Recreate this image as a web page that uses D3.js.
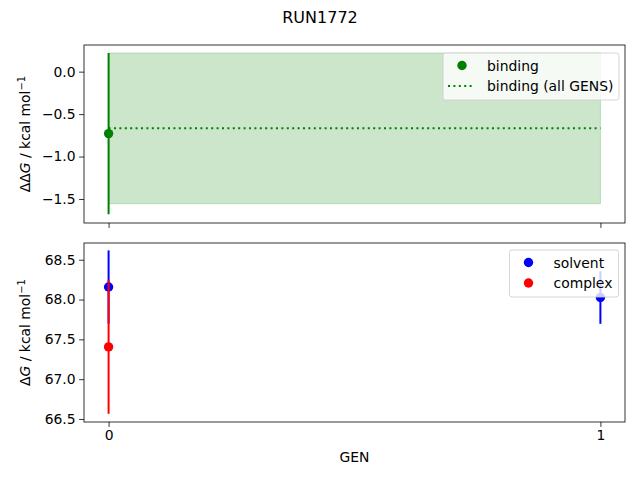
<!DOCTYPE html>
<html>
<head>
<meta charset="utf-8">
<script src="https://cdn.jsdelivr.net/npm/d3@7"></script>
<style>
  body { margin: 0; background: #fff; }
  svg { font-family: "DejaVu Sans", sans-serif; }
</style>
</head>
<body>
<svg id="chart" width="640" height="480"></svg>
<script>
// data
const TITLE = "RUN1772";
const GENS = [0, 1];
const X_TICKS = [0, 1];

// binding per GEN (null = missing)
const BINDING = [-0.73, null];
const BINDING_ERR = [0.95, null];
// binding over all gens
const BINDING_ALL = -0.668;
const BINDING_ALL_ERR = 0.888;

const SOLVENT = [68.157, 68.025];
const SOLVENT_ERR = [0.46, 0.33];
const COMPLEX = [67.405, null];
const COMPLEX_ERR = [0.84, null];

const TOP_TICKS = [0.0, -0.5, -1.0, -1.5];
const BOT_TICKS = [66.5, 67.0, 67.5, 68.0, 68.5];

const svg = d3.select('#chart');
const L = 84, R = 625;
const TOP = {y0: 45, y1: 223};
const BOT = {y0: 243, y1: 422};

// matplotlib-like 5% margins on x
const x = d3.scaleLinear().domain([-0.05, 1.05]).range([L, R]);
const yTop = d3.scaleLinear().domain([-1.783, 0.314]).range([TOP.y1, TOP.y0]);
const yBot = d3.scaleLinear().domain([66.462, 68.71]).range([BOT.y1, BOT.y0]);

const fmt = d3.format('.1f');
const minus = s => s.replace('-', '\u2212');
const LW = 2, MR = 4.7, DOTS = '2,3.4';

svg.append('text')
  .attr('x', 320).attr('y', 23)
  .attr('text-anchor', 'middle')
  .style('font-size', '16px')
  .text(TITLE);

function axesFrame(g, y, ticks, showXLabels) {
  const yAxis = d3.axisLeft(y).tickValues(ticks).tickSize(4.9).tickPadding(3.5)
    .tickFormat(d => minus(fmt(d)));
  const ya = g.append('g').attr('transform', `translate(${L},0)`).call(yAxis);
  const xAxis = d3.axisBottom(x).tickValues(X_TICKS).tickSize(4.9).tickPadding(3.5)
    .tickFormat(d => showXLabels ? d3.format('d')(d) : '');
  const xa = g.append('g').attr('transform', `translate(0,${y.range()[0]})`).call(xAxis);
  [ya, xa].forEach(a => {
    a.select('.domain').remove();
    a.selectAll('text').style('font-size', '13.9px').attr('fill', '#000')
      .style('font-family', '"DejaVu Sans", sans-serif');
    a.selectAll('line').attr('stroke', '#000').attr('stroke-width', 0.8);
  });
  g.append('rect')
    .attr('x', L).attr('y', y.range()[1])
    .attr('width', R - L).attr('height', y.range()[0] - y.range()[1])
    .attr('fill', 'none').attr('stroke', '#000').attr('stroke-width', 0.8);
}

function errbars(g, y, vals, errs, color) {
  const pts = GENS.map((d, i) => ({gen: d, v: vals[i], e: errs[i]})).filter(p => p.v != null);
  g.selectAll(null).data(pts).join('line')
    .attr('x1', d => x(d.gen)).attr('x2', d => x(d.gen))
    .attr('y1', d => y(d.v - d.e)).attr('y2', d => y(d.v + d.e))
    .attr('stroke', color).attr('stroke-width', LW);
  g.selectAll(null).data(pts).join('circle')
    .attr('cx', d => x(d.gen)).attr('cy', d => y(d.v))
    .attr('r', MR).attr('fill', color);
}

function legend(g, x0, y0, w, items) {
  const h = items.length * 21 + 5;
  g.append('rect')
    .attr('x', x0).attr('y', y0).attr('width', w).attr('height', h)
    .attr('rx', 2.5)
    .attr('fill', '#fff').attr('fill-opacity', 0.8)
    .attr('stroke', '#ccc').attr('stroke-width', 0.8);
  items.forEach((it, i) => {
    const cy = y0 + 12.5 + i * 20.5;
    if (it.type === 'dot') {
      g.append('circle').attr('cx', x0 + 19).attr('cy', cy).attr('r', MR).attr('fill', it.color);
    } else {
      g.append('line')
        .attr('x1', x0 + 5).attr('x2', x0 + 32).attr('y1', cy).attr('y2', cy)
        .attr('stroke', it.color).attr('stroke-width', LW)
        .attr('stroke-dasharray', DOTS);
    }
    g.append('text')
      .attr('x', x0 + 44).attr('y', cy + 5)
      .style('font-size', '13.9px')
      .text(it.label);
  });
}

// ---- top panel: binding ----
const gTop = svg.append('g');
gTop.append('rect')
  .attr('x', x(GENS[0])).attr('width', x(GENS[GENS.length - 1]) - x(GENS[0]))
  .attr('y', yTop(BINDING_ALL + BINDING_ALL_ERR))
  .attr('height', yTop(BINDING_ALL - BINDING_ALL_ERR) - yTop(BINDING_ALL + BINDING_ALL_ERR))
  .attr('fill', 'green').attr('fill-opacity', 0.2)
  .attr('stroke', 'green').attr('stroke-opacity', 0.2).attr('stroke-width', 1);
gTop.append('line')
  .attr('x1', x(GENS[0])).attr('x2', x(GENS[GENS.length - 1]))
  .attr('y1', yTop(BINDING_ALL)).attr('y2', yTop(BINDING_ALL))
  .attr('stroke', 'green').attr('stroke-width', LW)
  .attr('stroke-dasharray', DOTS);
errbars(gTop, yTop, BINDING, BINDING_ERR, 'green');
axesFrame(gTop, yTop, TOP_TICKS, false);
legend(gTop, 443, 53, 176, [
  {type: 'dot', color: 'green', label: 'binding'},
  {type: 'line', color: 'green', label: 'binding (all GENS)'}
]);

// ---- bottom panel: solvent / complex ----
const gBot = svg.append('g');
errbars(gBot, yBot, SOLVENT, SOLVENT_ERR, 'blue');
errbars(gBot, yBot, COMPLEX, COMPLEX_ERR, 'red');
axesFrame(gBot, yBot, BOT_TICKS, true);
legend(gBot, 509.5, 250, 109, [
  {type: 'dot', color: 'blue', label: 'solvent'},
  {type: 'dot', color: 'red', label: 'complex'}
]);

// axis labels
svg.append('text')
  .attr('x', (L + R) / 2).attr('y', 462)
  .attr('text-anchor', 'middle')
  .style('font-size', '13.9px')
  .text('GEN');

function ylabel(cy, prefix) {
  const t = svg.append('text')
    .attr('transform', `translate(30,${cy}) rotate(-90)`)
    .attr('text-anchor', 'middle')
    .style('font-size', '13.9px');
  t.append('tspan').text(prefix);
  t.append('tspan').style('font-style', 'italic').text('G');
  t.append('tspan').text(' / kcal mol');
  t.append('tspan').attr('dy', -5).style('font-size', '10px').text('\u22121');
}
ylabel((TOP.y0 + TOP.y1) / 2, '\u0394\u0394');
ylabel((BOT.y0 + BOT.y1) / 2, '\u0394');
</script>
</body>
</html>
